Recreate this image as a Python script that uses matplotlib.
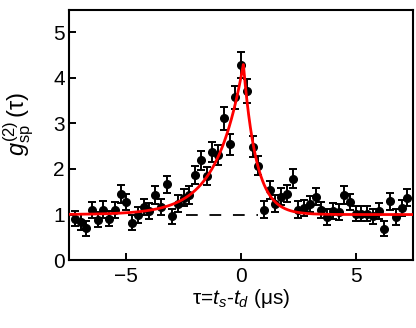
import numpy as np
import matplotlib
matplotlib.use("Agg")
import matplotlib.pyplot as plt

plt.rcParams["font.family"] = ["Liberation Sans", "DejaVu Sans"]
plt.rcParams["mathtext.fontset"] = "custom"
plt.rcParams["mathtext.rm"] = "Liberation Sans"
plt.rcParams["mathtext.it"] = "Liberation Sans:italic"
plt.rcParams["mathtext.sf"] = "Liberation Sans"

RED = "#ff0000"

# ---------- data -------------------------------------------------------------
tau = np.arange(-7.25, 7.26, 0.25)
g2 = [0.91, 0.84, 0.70, 1.10, 0.89, 1.11, 0.91, 1.10, 1.45, 1.28,
      0.82, 0.99, 1.17, 1.08, 1.43, 1.17, 1.66, 0.96, 1.24, 1.37,
      1.43, 1.86, 2.19, 1.84, 2.38, 2.30, 3.11, 2.54, 3.57, 4.28,
      3.71, 2.49, 2.07, 1.11, 1.54, 1.24, 1.39, 1.46, 1.79, 1.11,
      1.15, 1.23, 1.39, 1.10, 0.95, 1.08, 1.06, 1.43, 1.28, 1.02,
      1.02, 1.02, 0.96, 1.08, 0.69, 1.29, 0.95, 1.15, 1.37]
g2_err = [0.17, 0.17, 0.16, 0.18, 0.17, 0.18, 0.17, 0.18, 0.19, 0.18,
          0.17, 0.17, 0.18, 0.18, 0.19, 0.18, 0.19, 0.17, 0.18, 0.19,
          0.19, 0.20, 0.21, 0.20, 0.22, 0.22, 0.25, 0.23, 0.26, 0.29,
          0.27, 0.23, 0.21, 0.18, 0.19, 0.18, 0.19, 0.19, 0.20, 0.18,
          0.18, 0.18, 0.19, 0.18, 0.17, 0.18, 0.18, 0.19, 0.18, 0.17,
          0.17, 0.17, 0.17, 0.18, 0.16, 0.18, 0.17, 0.18, 0.19]

# fit: asymmetric exponential peak on a flat baseline
fit_base, fit_amp, fit_t0 = 1.0, 3.3, 0.1
fit_tl, fit_tr = 1.15, 0.56
dash_span = (-2.4, 0.75)

# ---------- plot --------------------------------------------------------------
fig = plt.figure(figsize=(4.16, 3.28), dpi=100)
ax = fig.add_axes([0.166, 0.207, 0.827, 0.764])

ax.hlines(1.0, *dash_span, colors="k", linestyles=(0, (6.5, 6.5)), lw=1.3, zorder=1)
ax.errorbar(tau, g2, yerr=g2_err, fmt="o", color="k", ms=5.5, elinewidth=1.4,
            capsize=3, capthick=1.4, zorder=2)

t = np.linspace(-7.5, 7.5, 2001)
fit = np.where(t < fit_t0,
               fit_base + fit_amp * np.exp((t - fit_t0) / fit_tl),
               fit_base + fit_amp * np.exp(-(t - fit_t0) / fit_tr))
ax.plot(t, fit, color=RED, lw=2, zorder=3)

ax.set_xlim(-7.5, 7.5)
ax.set_ylim(0, 5.5)
ax.set_xticks([-5, 0, 5])
ax.set_xticklabels(["\u22125", "0", "5"])
ax.set_yticks([0, 1, 2, 3, 4, 5])
ax.tick_params(direction="in", length=5, width=1.4, labelsize=15)
ax.tick_params(axis="x", pad=5)
ax.tick_params(axis="y", pad=3)
for s in ax.spines.values():
    s.set_linewidth(1.5)

ax.set_xlabel("\u03c4=$t_s$-$t_d$ (\u03bcs)", fontsize=15, labelpad=1)
ax.set_ylabel("$g^{(2)}_{\\rm sp}\\,$(\u03c4)", fontsize=17)
ax.yaxis.set_label_coords(-0.095, 0.545)

plt.savefig("out.png", dpi=100)
plt.close()
